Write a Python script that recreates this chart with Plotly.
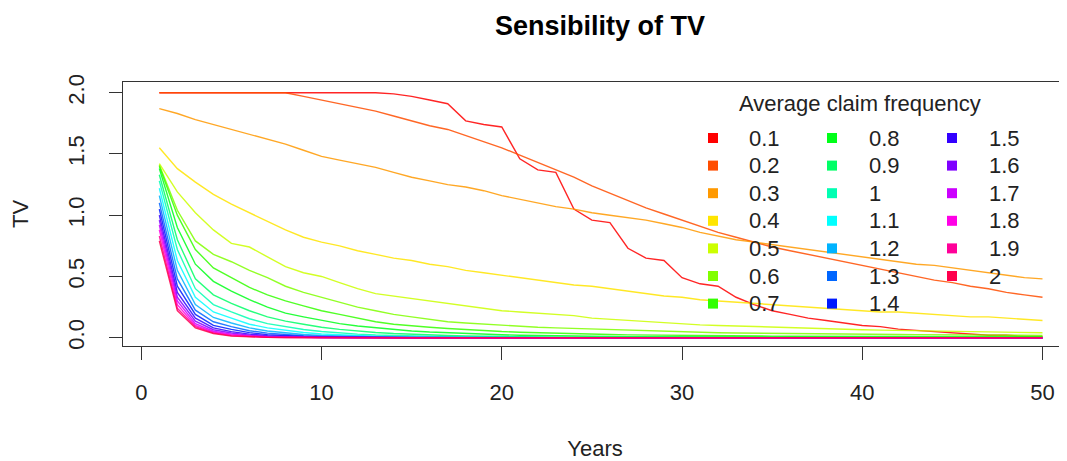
import plotly.graph_objects as go

# ---------------- data ----------------
years = [1, 2, 3, 4, 5, 6, 7, 8, 9, 10, 11, 12, 13, 14, 15, 16, 17, 18, 19, 20,
         21, 22, 23, 24, 25, 26, 27, 28, 29, 30, 31, 32, 33, 34, 35, 36, 37, 38, 39, 40,
         41, 42, 43, 44, 45, 46, 47, 48, 49, 50]

frequencies = ["0.1", "0.2", "0.3", "0.4", "0.5", "0.6", "0.7", "0.8", "0.9", "1",
               "1.1", "1.2", "1.3", "1.4", "1.5", "1.6", "1.7", "1.8", "1.9", "2"]

tv_0_1 = [2.00, 2.00, 2.00, 2.00, 2.00, 2.00, 2.00, 2.00, 2.00, 2.00,
          2.00, 2.00, 2.00, 1.99, 1.97, 1.94, 1.91, 1.77, 1.74, 1.72,
          1.46, 1.37, 1.35, 1.05, 0.96, 0.94, 0.73, 0.65, 0.63, 0.49,
          0.44, 0.42, 0.33, 0.27, 0.22, 0.19, 0.16, 0.14, 0.12, 0.10,
          0.09, 0.07, 0.06, 0.05, 0.04, 0.03, 0.02, 0.02, 0.01, 0.01]
tv_0_2 = [2.00, 2.00, 2.00, 2.00, 2.00, 2.00, 2.00, 2.00, 1.97, 1.94,
          1.91, 1.88, 1.85, 1.81, 1.77, 1.73, 1.70, 1.65, 1.60, 1.55,
          1.49, 1.43, 1.37, 1.31, 1.24, 1.18, 1.12, 1.06, 1.01, 0.96,
          0.91, 0.86, 0.82, 0.78, 0.74, 0.71, 0.68, 0.65, 0.62, 0.59,
          0.56, 0.53, 0.50, 0.47, 0.45, 0.42, 0.40, 0.37, 0.35, 0.33]
tv_0_3 = [1.87, 1.83, 1.78, 1.74, 1.70, 1.66, 1.62, 1.58, 1.53, 1.48,
          1.45, 1.42, 1.39, 1.35, 1.31, 1.28, 1.25, 1.23, 1.20, 1.16,
          1.13, 1.10, 1.07, 1.05, 1.02, 1.00, 0.98, 0.96, 0.93, 0.90,
          0.86, 0.83, 0.80, 0.78, 0.76, 0.74, 0.72, 0.70, 0.68, 0.66,
          0.64, 0.62, 0.60, 0.59, 0.57, 0.55, 0.53, 0.51, 0.49, 0.48]
tv_0_4 = [1.55, 1.38, 1.27, 1.17, 1.09, 1.02, 0.95, 0.88, 0.82, 0.78,
          0.75, 0.71, 0.68, 0.65, 0.63, 0.60, 0.58, 0.55, 0.53, 0.51,
          0.49, 0.47, 0.45, 0.43, 0.42, 0.40, 0.38, 0.36, 0.34, 0.33,
          0.31, 0.30, 0.29, 0.28, 0.27, 0.26, 0.25, 0.24, 0.23, 0.22,
          0.21, 0.21, 0.20, 0.19, 0.18, 0.17, 0.17, 0.16, 0.15, 0.14]
tv_0_5 = [1.42, 1.19, 1.02, 0.88, 0.77, 0.74, 0.66, 0.58, 0.53, 0.50,
          0.45, 0.40, 0.36, 0.34, 0.32, 0.30, 0.28, 0.26, 0.24, 0.22,
          0.21, 0.20, 0.19, 0.18, 0.16, 0.15, 0.14, 0.13, 0.12, 0.11,
          0.105, 0.10, 0.095, 0.09, 0.085, 0.08, 0.075, 0.07, 0.068, 0.065,
          0.062, 0.06, 0.057, 0.055, 0.052, 0.05, 0.047, 0.045, 0.042, 0.04]
tv_0_6 = [1.41, 1.04, 0.79, 0.68, 0.62, 0.55, 0.49, 0.42, 0.37, 0.33,
          0.29, 0.25, 0.22, 0.19, 0.17, 0.15, 0.13, 0.12, 0.11, 0.10,
          0.09, 0.085, 0.08, 0.075, 0.07, 0.065, 0.06, 0.055, 0.05, 0.045,
          0.042, 0.04, 0.038, 0.036, 0.034, 0.032, 0.031, 0.03, 0.029, 0.028,
          0.027, 0.026, 0.025, 0.024, 0.023, 0.022, 0.021, 0.02, 0.02, 0.019]
tv_0_7 = [1.40, 1.00, 0.72, 0.57, 0.49, 0.41, 0.35, 0.30, 0.26, 0.22,
          0.19, 0.16, 0.13, 0.11, 0.095, 0.085, 0.075, 0.065, 0.058, 0.05,
          0.045, 0.04, 0.036, 0.032, 0.029, 0.026, 0.023, 0.021, 0.019, 0.017,
          0.016, 0.015, 0.014, 0.013, 0.013, 0.012, 0.012, 0.011, 0.011, 0.010,
          0.010, 0.010, 0.009, 0.009, 0.009, 0.008, 0.008, 0.008, 0.008, 0.008]
tv_0_8 = [1.38, 0.90, 0.60, 0.46, 0.38, 0.31, 0.25, 0.20, 0.17, 0.14,
          0.115, 0.095, 0.08, 0.065, 0.055, 0.046, 0.039, 0.033, 0.028, 0.024,
          0.020, 0.017, 0.015, 0.013, 0.011, 0.010, 0.009, 0.008, 0.007, 0.007,
          0.006, 0.006, 0.005, 0.005, 0.005, 0.004, 0.004, 0.004, 0.004, 0.003,
          0.003, 0.003, 0.003, 0.003, 0.003, 0.003, 0.003, 0.003, 0.003, 0.003]
tv_0_9 = [1.33, 0.80, 0.48, 0.35, 0.28, 0.22, 0.17, 0.135, 0.11, 0.085,
          0.068, 0.054, 0.043, 0.034, 0.027, 0.022, 0.018, 0.014, 0.011, 0.009,
          0.007, 0.006, 0.005, 0.004, 0.003, 0.003, 0.002, 0.002, 0.002, 0.001,
          0.001, 0.001, 0.001, 0.001, 0.001, 0.001, 0.001, 0.001, 0.001, 0.001,
          0.001, 0.001, 0.001, 0.001, 0.001, 0.001, 0.001, 0.001, 0.001, 0.001]
tv_1_0 = [1.28, 0.72, 0.40, 0.27, 0.21, 0.155, 0.115, 0.088, 0.067, 0.050,
          0.038, 0.029, 0.022, 0.017, 0.013, 0.010, 0.008, 0.006, 0.004, 0.003,
          0.002, 0.002, 0.001, 0.001, 0.001, 0, 0, 0, 0, 0,
          0, 0, 0, 0, 0, 0, 0, 0, 0, 0,
          0, 0, 0, 0, 0, 0, 0, 0, 0, 0]
tv_1_1 = [1.22, 0.63, 0.33, 0.21, 0.16, 0.11, 0.08, 0.058, 0.042, 0.030,
          0.022, 0.016, 0.012, 0.009, 0.006, 0.004, 0.003, 0.002, 0.001, 0.001,
          0, 0, 0, 0, 0, 0, 0, 0, 0, 0,
          0, 0, 0, 0, 0, 0, 0, 0, 0, 0,
          0, 0, 0, 0, 0, 0, 0, 0, 0, 0]
tv_1_2 = [1.16, 0.55, 0.27, 0.165, 0.12, 0.08, 0.055, 0.038, 0.026, 0.018,
          0.013, 0.009, 0.006, 0.004, 0.003, 0.002, 0.001, 0.001, 0, 0,
          0, 0, 0, 0, 0, 0, 0, 0, 0, 0,
          0, 0, 0, 0, 0, 0, 0, 0, 0, 0,
          0, 0, 0, 0, 0, 0, 0, 0, 0, 0]
tv_1_3 = [1.10, 0.48, 0.225, 0.13, 0.09, 0.057, 0.037, 0.025, 0.016, 0.011,
          0.007, 0.005, 0.003, 0.002, 0.001, 0.001, 0, 0, 0, 0,
          0, 0, 0, 0, 0, 0, 0, 0, 0, 0,
          0, 0, 0, 0, 0, 0, 0, 0, 0, 0,
          0, 0, 0, 0, 0, 0, 0, 0, 0, 0]
tv_1_4 = [1.05, 0.42, 0.19, 0.10, 0.068, 0.041, 0.025, 0.016, 0.010, 0.007,
          0.004, 0.003, 0.002, 0.001, 0, 0, 0, 0, 0, 0,
          0, 0, 0, 0, 0, 0, 0, 0, 0, 0,
          0, 0, 0, 0, 0, 0, 0, 0, 0, 0,
          0, 0, 0, 0, 0, 0, 0, 0, 0, 0]
tv_1_5 = [1.00, 0.37, 0.16, 0.08, 0.05, 0.029, 0.017, 0.010, 0.006, 0.004,
          0.002, 0.001, 0.001, 0, 0, 0, 0, 0, 0, 0,
          0, 0, 0, 0, 0, 0, 0, 0, 0, 0,
          0, 0, 0, 0, 0, 0, 0, 0, 0, 0,
          0, 0, 0, 0, 0, 0, 0, 0, 0, 0]
tv_1_6 = [0.96, 0.33, 0.135, 0.065, 0.038, 0.021, 0.011, 0.006, 0.004, 0.002,
          0.001, 0.001, 0, 0, 0, 0, 0, 0, 0, 0,
          0, 0, 0, 0, 0, 0, 0, 0, 0, 0,
          0, 0, 0, 0, 0, 0, 0, 0, 0, 0,
          0, 0, 0, 0, 0, 0, 0, 0, 0, 0]
tv_1_7 = [0.92, 0.30, 0.115, 0.053, 0.029, 0.015, 0.008, 0.004, 0.002, 0.001,
          0.001, 0, 0, 0, 0, 0, 0, 0, 0, 0,
          0, 0, 0, 0, 0, 0, 0, 0, 0, 0,
          0, 0, 0, 0, 0, 0, 0, 0, 0, 0,
          0, 0, 0, 0, 0, 0, 0, 0, 0, 0]
tv_1_8 = [0.88, 0.27, 0.10, 0.045, 0.022, 0.011, 0.005, 0.003, 0.001, 0.001,
          0, 0, 0, 0, 0, 0, 0, 0, 0, 0,
          0, 0, 0, 0, 0, 0, 0, 0, 0, 0,
          0, 0, 0, 0, 0, 0, 0, 0, 0, 0,
          0, 0, 0, 0, 0, 0, 0, 0, 0, 0]
tv_1_9 = [0.83, 0.24, 0.09, 0.039, 0.017, 0.008, 0.004, 0.002, 0.001, 0,
          0, 0, 0, 0, 0, 0, 0, 0, 0, 0,
          0, 0, 0, 0, 0, 0, 0, 0, 0, 0,
          0, 0, 0, 0, 0, 0, 0, 0, 0, 0,
          0, 0, 0, 0, 0, 0, 0, 0, 0, 0]
tv_2_0 = [0.79, 0.22, 0.08, 0.034, 0.013, 0.006, 0.003, 0.001, 0, 0,
          0, 0, 0, 0, 0, 0, 0, 0, 0, 0,
          0, 0, 0, 0, 0, 0, 0, 0, 0, 0,
          0, 0, 0, 0, 0, 0, 0, 0, 0, 0,
          0, 0, 0, 0, 0, 0, 0, 0, 0, 0]

series = [tv_0_1, tv_0_2, tv_0_3, tv_0_4, tv_0_5, tv_0_6, tv_0_7, tv_0_8, tv_0_9, tv_1_0,
          tv_1_1, tv_1_2, tv_1_3, tv_1_4, tv_1_5, tv_1_6, tv_1_7, tv_1_8, tv_1_9, tv_2_0]

# R rainbow(20)
colors = ["#FF0000", "#FF4D00", "#FF9900", "#FFE500", "#CCFF00", "#80FF00", "#33FF00",
          "#00FF19", "#00FF66", "#00FFB2", "#00FFFF", "#00B3FF", "#0066FF", "#001AFF",
          "#3300FF", "#7F00FF", "#CC00FF", "#FF00E6", "#FF0099", "#FF004D"]

x_ticks = [0, 10, 20, 30, 40, 50]
y_ticks = [0.0, 0.5, 1.0, 1.5, 2.0]
y_tick_labels = ["0.0", "0.5", "1.0", "1.5", "2.0"]

for s in series:
    assert len(s) == len(years)

# ---------------- layout constants (page pixels) ----------------
PAGE_OFF = 8                      # default body margin of the html page
W, H = 1067 - PAGE_OFF, 461 - PAGE_OFF
BOX_L, BOX_T, BOX_B = 123, 82, 346   # plot box on the page
L, T = BOX_L - PAGE_OFF, BOX_T - PAGE_OFF
B = 461 - BOX_B
R = 0
PW, PH = W - L - R, H - T - B
FONT = "Liberation Sans, Arial, sans-serif"
TXT = "#222222"


def px_x(px):
    return (px - BOX_L) / PW


def px_y(py):
    return (BOX_B - py) / PH


fig = go.Figure()
for name, vals, col in zip(frequencies, series, colors):
    fig.add_trace(go.Scatter(x=years, y=vals, mode="lines", name=name,
                             line=dict(color=col, width=1.4), opacity=0.85,
                             showlegend=False))

# ---------------- legend (drawn like R's legend, 3 columns) ----------------
annotations = []
shapes = []
annotations.append(dict(text="Average claim frequency", x=px_x(737), y=px_y(103),
                        xref="paper", yref="paper", xanchor="left", yanchor="middle",
                        showarrow=False, font=dict(family=FONT, size=22, color=TXT)))
col_sq = [713, 832, 952]
col_tx = [747, 867, 987]
row0, drow = 138, 27.6
for i, (name, col) in enumerate(zip(frequencies, colors)):
    c, r = divmod(i, 7)
    cy = row0 + r * drow
    shapes.append(dict(type="rect", xref="paper", yref="paper",
                       x0=px_x(col_sq[c] - 5), x1=px_x(col_sq[c] + 5),
                       y0=px_y(cy + 5), y1=px_y(cy - 5),
                       fillcolor=col, line=dict(width=0)))
    annotations.append(dict(text=name, x=px_x(col_tx[c]), y=px_y(cy),
                            xref="paper", yref="paper", xanchor="left", yanchor="middle",
                            showarrow=False, font=dict(family=FONT, size=22, color=TXT)))

fig.update_layout(
    width=W, height=H,
    margin=dict(l=L, r=R, t=T, b=B, autoexpand=False),
    paper_bgcolor="white", plot_bgcolor="white",
    font=dict(family=FONT, size=22, color=TXT),
    title=dict(text="Sensibility of TV", x=px_x(600), xref="paper", xanchor="center",
               y=1 - (26 - PAGE_OFF) / H, yref="container", yanchor="middle",
               font=dict(family=FONT, size=27, color="#000000", weight="bold")),
    annotations=annotations,
    shapes=shapes,
    xaxis=dict(range=[-1.015, 51.36], tickvals=x_ticks, ticks="outside", ticklen=13,
               tickcolor="#333333", tickwidth=1, showline=True, linecolor="#333333",
               linewidth=1, mirror=True, showgrid=False, zeroline=False,
               ticklabelstandoff=14, tickfont=dict(size=22, color=TXT),
               title=dict(text="Years", standoff=37, font=dict(size=22, color=TXT)),
               automargin=False),
    yaxis=dict(range=[-0.0678, 2.0873], tickvals=y_ticks, ticktext=y_tick_labels,
               tickangle=-90, ticks="outside", ticklen=13, tickcolor="#333333",
               tickwidth=1, showline=True, linecolor="#333333", linewidth=1,
               mirror=False, showgrid=False, zeroline=False, ticklabelstandoff=16,
               tickfont=dict(size=22, color=TXT),
               title=dict(text="TV", standoff=32, font=dict(size=22, color=TXT)),
               automargin=False),
)

fig.write_html("out.html")
